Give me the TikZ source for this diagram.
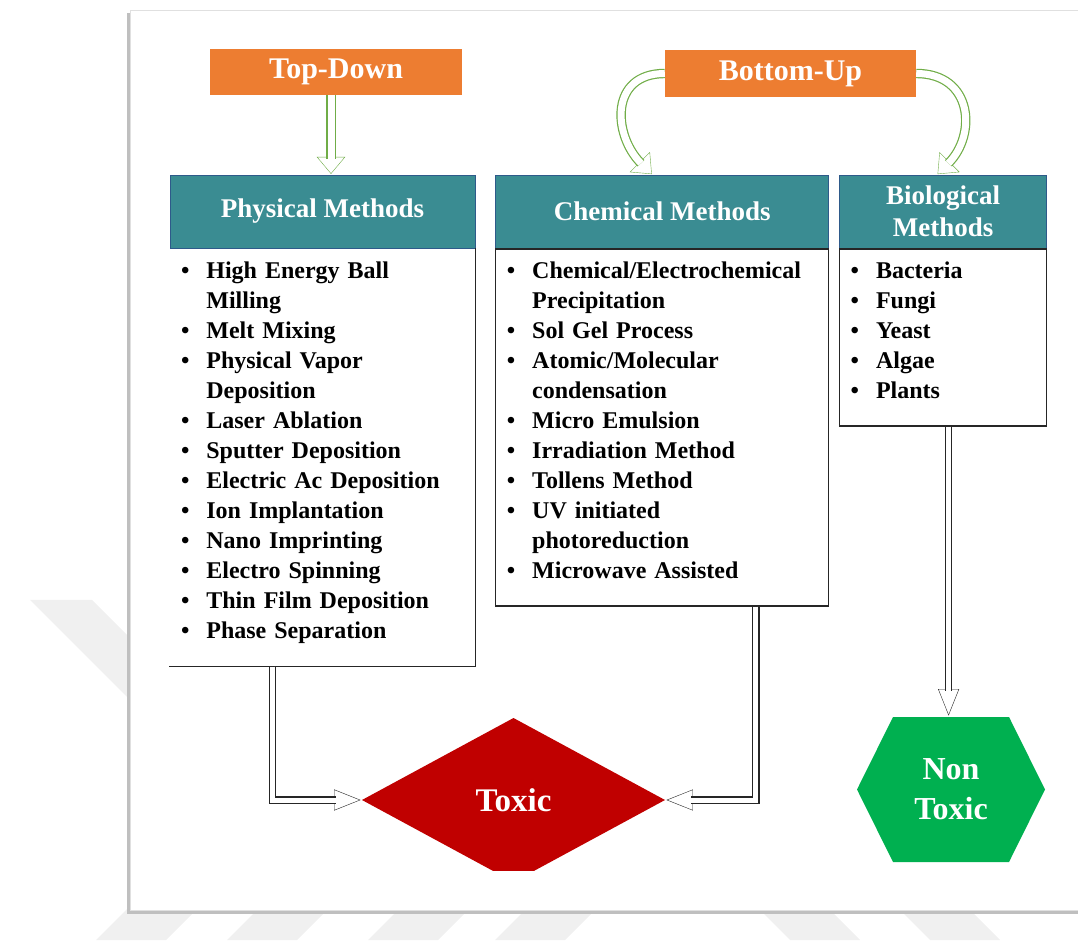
\documentclass[tikz,border=0pt]{standalone}
\usepackage{fontspec}
\setmainfont{Liberation Serif}
\usetikzlibrary{positioning, calc, arrows.meta, decorations.markings}

\definecolor{tdorange}{HTML}{ED7D31}
\definecolor{hdteal}{HTML}{3A8C92}
\definecolor{hdline}{HTML}{2E5A8A}
\definecolor{arrgreen}{HTML}{70AD47}
\definecolor{toxred}{HTML}{C00000}
\definecolor{ntgreen}{HTML}{00B050}

\tikzset{
    approach/.style={fill=tdorange, text=white, inner sep=0pt, minimum height=46pt, minimum width=252pt, font=\fontsize{30}{34}\selectfont\bfseries},
    methodhead/.style={fill=hdteal, draw=hdline, line width=0.8pt, text=white, align=center, inner sep=0pt, minimum height=73pt, font=\fontsize{27}{32}\selectfont\bfseries},
    methodlist/.style={draw=black!85, line width=1.2pt, fill=white, inner xsep=11pt, inner ysep=2pt, align=left, font=\fontsize{24}{30}\selectfont\bfseries},
    greenarr/.style={draw=arrgreen, double=white, double distance=7pt, line width=1.2pt, shorten >=16pt,
        decoration={markings, mark=at position 0.9995 with {\arrow[arrgreen]{Triangle[open, length=18pt, width=30pt, line width=1.2pt]}}},
        preaction={decorate}},
    blkarr/.style={draw=black!85, double=white, double distance=5pt, line width=1.2pt, shorten >=26pt,
        decoration={markings, mark=at position 0.9995 with {\arrow[black!85]{Triangle[open, length=28pt, width=22pt, line width=1.2pt]}}},
        preaction={decorate}},
    toxicbox/.style={minimum width=303pt, minimum height=164pt, inner sep=0pt, text=white, font=\fontsize{33}{36}\selectfont\bfseries,
        path picture={
            \clip ([yshift=12pt]path picture bounding box.south west) rectangle (path picture bounding box.north east);
            \fill[toxred] (path picture bounding box.west) -- (path picture bounding box.north) -- (path picture bounding box.east) -- (path picture bounding box.south) -- cycle;
        }},
    nontoxicbox/.style={minimum width=188pt, minimum height=145pt, inner sep=0pt, text=white, align=center, font=\fontsize{32}{40}\selectfont\bfseries,
        path picture={
            \fill[ntgreen] (path picture bounding box.west) -- ([xshift=36pt]path picture bounding box.north west) -- ([xshift=-36pt]path picture bounding box.north east)
                -- (path picture bounding box.east) -- ([xshift=-36pt]path picture bounding box.south east) -- ([xshift=36pt]path picture bounding box.south west) -- cycle;
        }},
}

\begin{document}
\begin{tikzpicture}[x=1pt, y=1pt]
    \useasboundingbox (0,0) rectangle (1078,940);

    % watermark stripes and panel
    \fill[black!6] (30,340) -- (92,340) -- (230,202) -- (168,202) -- cycle;
    \foreach \sx in {96, 227, 368, 495} {
        \fill[black!6] (\sx,0) -- ++(70,0) -- ++(40,40) -- ++(-70,0) -- cycle;
    }
    \foreach \sx in {790, 930} {
        \fill[black!6] (\sx,0) -- ++(70,0) -- ++(-40,40) -- ++(-70,0) -- cycle;
    }
    \fill[black!25] (127,26) rectangle (1090,927);
    \fill[white, draw=black!12] (130,30) rectangle (1090,930);

    % approaches
    \node[approach] (td) at (336,868) {Top-Down};
    \node[approach, minimum height=47pt, minimum width=251pt] (bu) at (790.5,866.5) {Bottom-Up};

    % method headers
    \node[methodhead, minimum width=305pt] (ph) at (322.5,728.5) {Physical Methods};
    \node[methodhead, minimum width=333pt, right=20pt of ph] (ch) {Chemical Methods};
    \node[methodhead, minimum width=207pt, right=10pt of ch] (bi) {Biological\\Methods};

    % method lists
    \node[methodlist, draw=none, text width=283pt, minimum height=417pt, below=0pt of ph] (phl) {%
        \begin{tabular}{@{}l@{\hspace{17pt}}l@{}}
        \textbullet & High Energy Ball\\
                    & Milling\\
        \textbullet & Melt Mixing\\
        \textbullet & Physical Vapor\\
                    & Deposition\\
        \textbullet & Laser Ablation\\
        \textbullet & Sputter Deposition\\
        \textbullet & Electric Ac Deposition\\
        \textbullet & Ion Implantation\\
        \textbullet & Nano Imprinting\\
        \textbullet & Electro Spinning\\
        \textbullet & Thin Film Deposition\\
        \textbullet & Phase Separation\\[10pt]
        \end{tabular}};
    \draw[black!85, line width=1.2pt] (phl.north east) -- (phl.south east) -- (phl.south west);
    \node[methodlist, text width=311pt, minimum height=357pt, below=0pt of ch] (chl) {%
        \begin{tabular}{@{}l@{\hspace{17pt}}l@{}}
        \textbullet & Chemical/Electrochemical\\
                    & Precipitation\\
        \textbullet & Sol Gel Process\\
        \textbullet & Atomic/Molecular\\
                    & condensation\\
        \textbullet & Micro Emulsion\\
        \textbullet & Irradiation Method\\
        \textbullet & Tollens Method\\
        \textbullet & UV initiated\\
                    & photoreduction\\
        \textbullet & Microwave Assisted\\[10pt]
        \end{tabular}};
    \node[methodlist, text width=185pt, minimum height=177pt, below=0pt of bi] (bil) {%
        \begin{tabular}{@{}l@{\hspace{17pt}}l@{}}
        \textbullet & Bacteria\\
        \textbullet & Fungi\\
        \textbullet & Yeast\\
        \textbullet & Algae\\
        \textbullet & Plants\\[10pt]
        \end{tabular}};

    % outcomes
    \node[toxicbox] (tox) at (513.5,140) {Toxic};
    \node[nontoxicbox] (ntox) at (951,150.5) {Non\\Toxic};

    % arrows
    \draw[greenarr] ([xshift=-5pt]td.south) -- ([xshift=-5pt]td.south |- ph.north);
    \draw[greenarr] (bu.west) to[out=180, in=135, looseness=1.4] ([xshift=-10pt]ch.north);
    \draw[greenarr] (bu.east) to[out=0, in=45, looseness=1.4] ([xshift=-6pt]bi.north);

    \draw[blkarr] ([xshift=-50pt]phl.south) |- (tox.west);
    \draw[blkarr] ([xshift=93.5pt]chl.south) |- (tox.east);
    \draw[blkarr] ([xshift=5.5pt]bil.south) -- ([xshift=5.5pt]bil.south |- ntox.north);

\end{tikzpicture}
\end{document}
